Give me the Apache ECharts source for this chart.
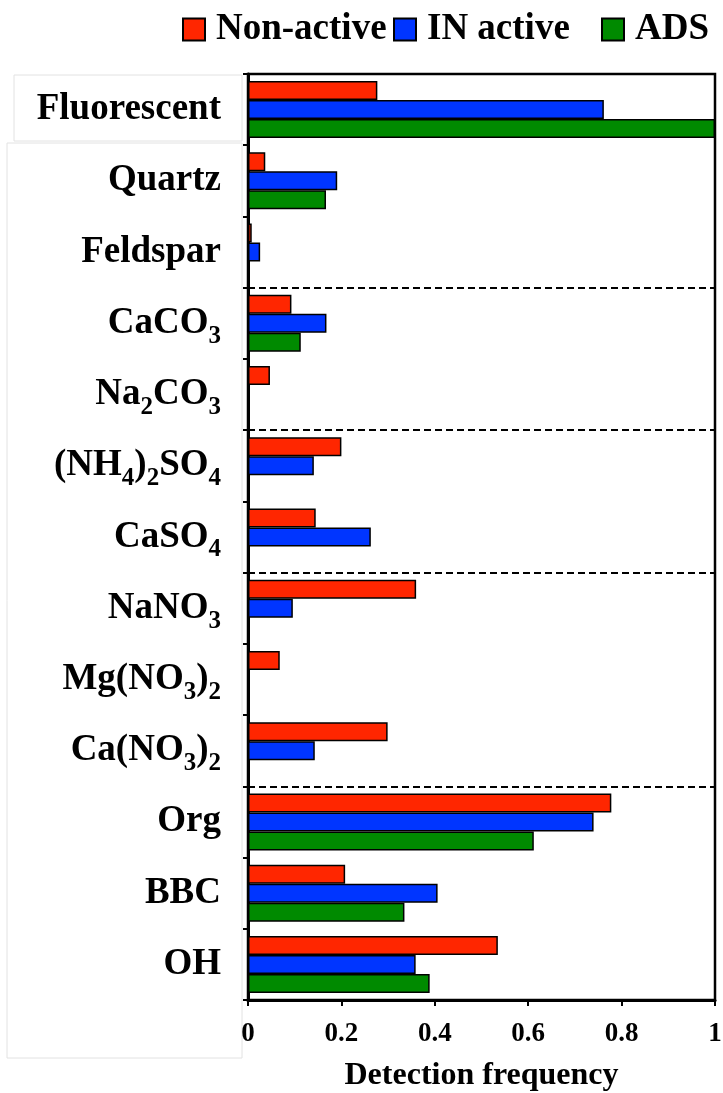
<!DOCTYPE html>
<html>
<head>
<meta charset="utf-8">
<script src="https://cdn.jsdelivr.net/npm/echarts@6/dist/echarts.min.js"></script>
<style>
  html, body { margin: 0; padding: 0; background: #fff; }
  #chart { width: 723px; height: 1093px; }
</style>
</head>
<body>
<div id="chart"></div>
<script>
// categories top to bottom
const categories = ['Fluorescent', 'Quartz', 'Feldspar', 'CaCO3', 'Na2CO3', '(NH4)2SO4', 'CaSO4',
                    'NaNO3', 'Mg(NO3)2', 'Ca(NO3)2', 'Org', 'BBC', 'OH'];
const nonActive = [0.277, 0.037, 0.008, 0.093, 0.047, 0.200, 0.145, 0.360, 0.068, 0.299, 0.778, 0.208, 0.535];
const inActive  = [0.762, 0.191, 0.026, 0.168, 0,     0.141, 0.263, 0.096, 0,     0.143, 0.740, 0.406, 0.359];
const ads       = [1.000, 0.167, 0,     0.113, 0,     0,     0,     0,     0,     0,     0.612, 0.335, 0.389];
// boundaries (above these categories) drawn as dashed group separators
const groupStarts = [3, 5, 7, 10];

const serif = "'Liberation Serif', 'Times New Roman', serif";
const red = '#ff2600', blue = '#0035ff', green = '#008a00';

// turn digits into subscripts for the chemical formulas
function formula(name){
    return name.split(/(\d+)/).filter(s=>s!=='').map(s=>/^\d+$/.test(s)?'{s|'+s+'}':'{m|'+s+'}').join('');
}

const chart = echarts.init(document.getElementById('chart'));

const barStyle = (color)=>({color: color, borderColor: '#000', borderWidth: 1.5});

const legendText = {color: '#000', fontSize: 37, fontWeight: 'bold', fontFamily: serif, padding: [0,0,0,6]};
const mkLegend = (name, left)=>({
    data: [name], left: left, top: 11, padding: 0, icon: 'rect', itemWidth: 22, itemHeight: 22,
    textStyle: legendText, selectedMode: false
});

const option = {
    animation: false,
    backgroundColor: '#fff',
    legend: [
        mkLegend('Non-active', 182),
        mkLegend('IN active', 393),
        mkLegend('ADS', 601)
    ],
    graphic: [
        {type: 'rect', z: -10, shape: {x: 14, y: 75, width: 228, height: 66}, style: {fill: 'none', stroke: '#e2e2e2', lineWidth: 1}},
        {type: 'rect', z: -10, shape: {x: 7, y: 143, width: 235, height: 915}, style: {fill: 'none', stroke: '#e2e2e2', lineWidth: 1}}
    ],
    grid: {
        left: 248, right: 8, top: 74, bottom: 93,
        outerBoundsMode: 'none', containLabel: false,
        show: true, borderColor: '#000', borderWidth: 2.5, backgroundColor: '#fff'
    },
    xAxis: {
        type: 'value', min: 0, max: 1, interval: 0.2,
        name: 'Detection frequency', nameLocation: 'middle', nameGap: 60,
        nameTextStyle: {color: '#000', fontSize: 32, fontWeight: 'bold', fontFamily: serif},
        axisLine: {show: true, lineStyle: {color: '#000', width: 3}},
        axisTick: {show: true, length: 6, lineStyle: {color: '#000', width: 2}},
        axisLabel: {color: '#000', fontSize: 27, fontWeight: 'bold', fontFamily: serif, margin: 21},
        splitLine: {show: false}
    },
    yAxis: {
        type: 'category', inverse: true, data: categories,
        axisLine: {show: true, lineStyle: {color: '#000', width: 3}},
        axisTick: {show: true, interval: 0, length: 5, lineStyle: {color: '#000', width: 2}},
        axisLabel: {
            interval: 0, margin: 27,
            formatter: (v)=>formula(v),
            rich: {
                m: {color: '#000', fontSize: 37, fontWeight: 'bold', fontFamily: serif},
                s: {color: '#000', fontSize: 25, fontWeight: 'bold', fontFamily: serif, padding: [26,0,0,0]}
            }
        },
        splitLine: {
            show: true,
            interval: (index)=>groupStarts.indexOf(index) >= 0,
            lineStyle: {color: '#000', width: 2, type: [7, 4]}
        }
    },
    series: [
        {name: 'Non-active', type: 'bar', data: nonActive, itemStyle: barStyle(red), barGap: '0%', barCategoryGap: '20%'},
        {name: 'IN active', type: 'bar', data: inActive, itemStyle: barStyle(blue), barGap: '0%', barCategoryGap: '20%'},
        {name: 'ADS', type: 'bar', data: ads, itemStyle: barStyle(green), barGap: '0%', barCategoryGap: '20%'}
    ]
};

chart.setOption(option);
</script>
</body>
</html>
